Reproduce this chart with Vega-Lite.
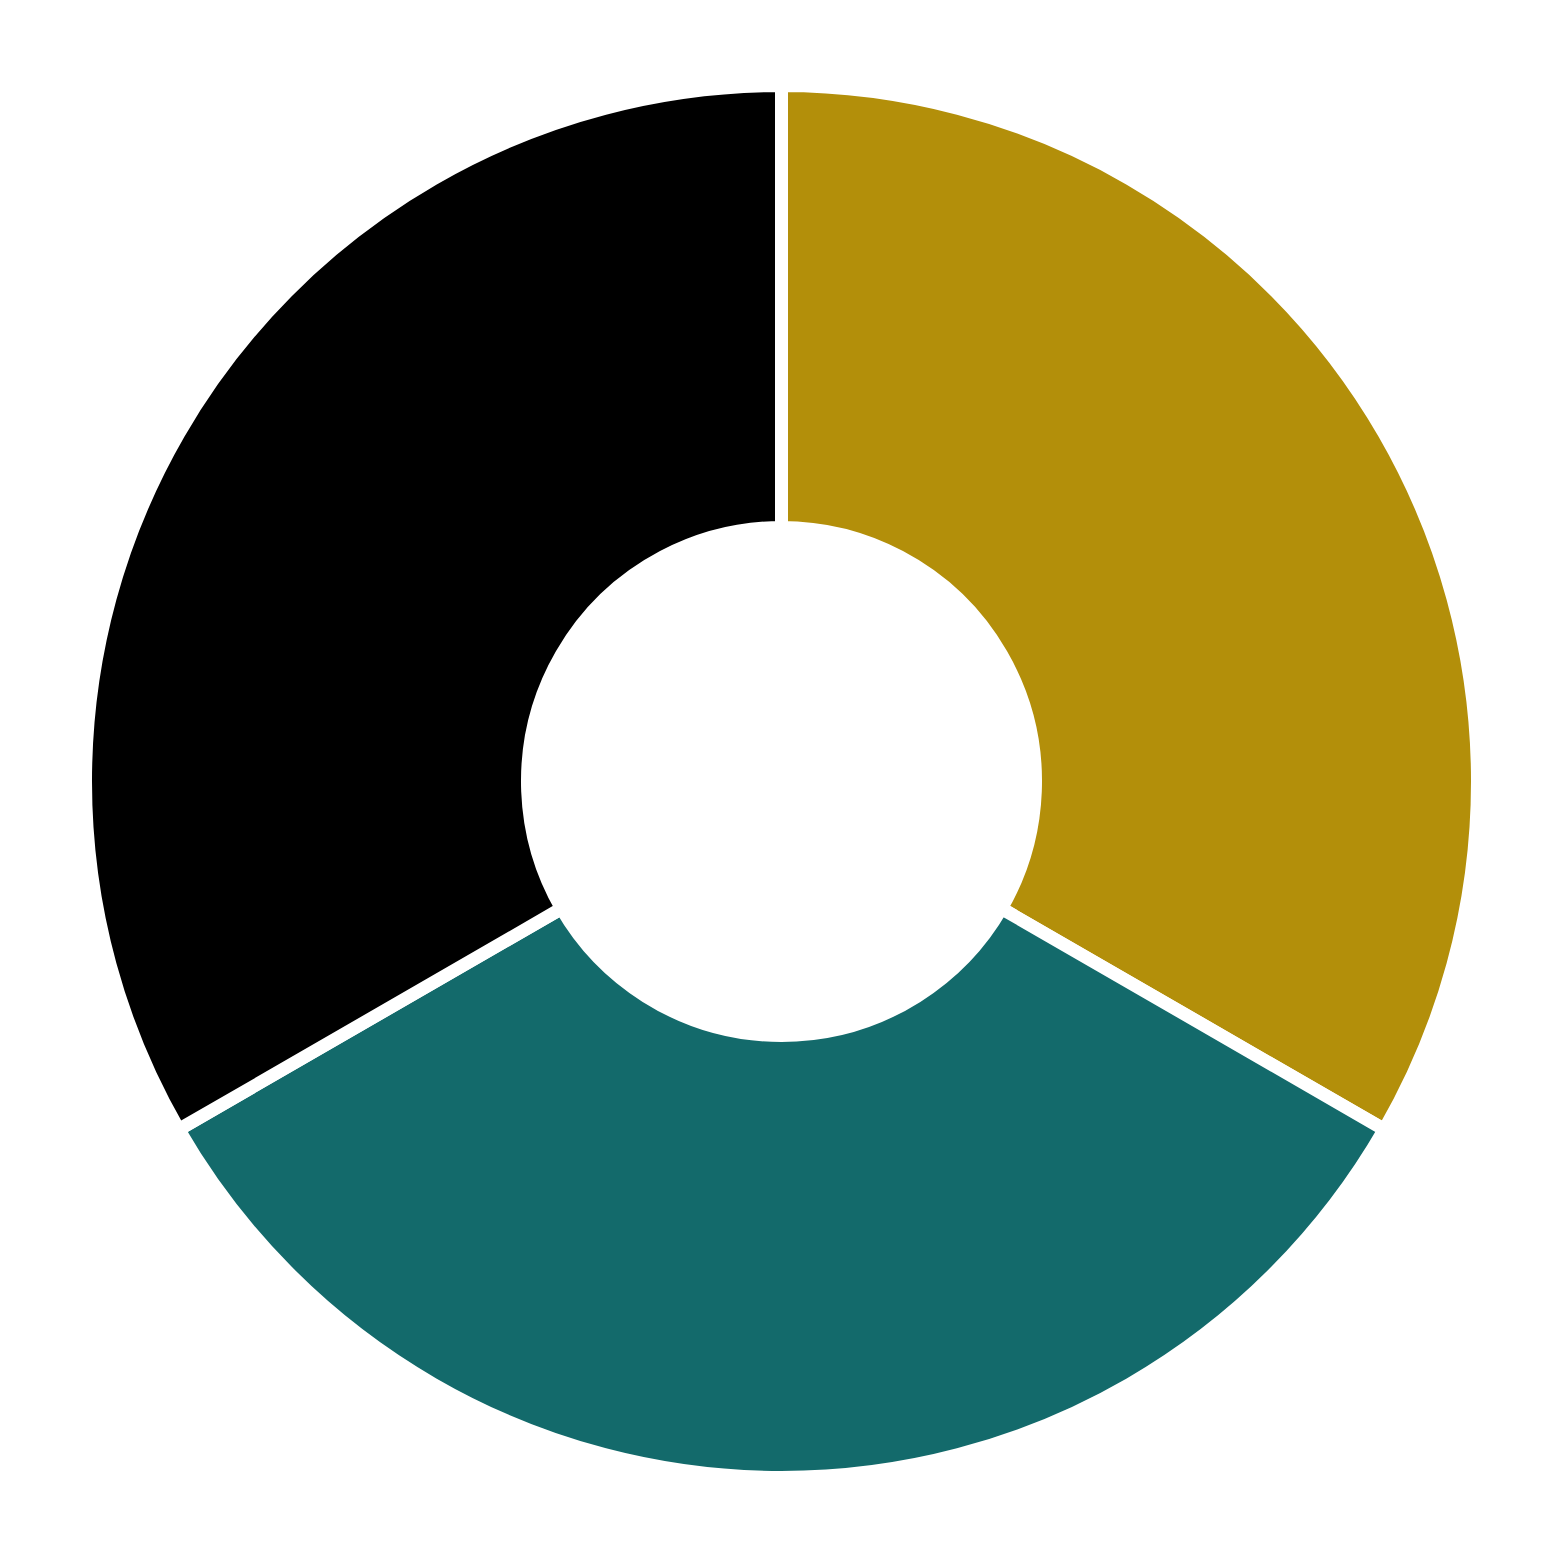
{
  "$schema": "https://vega.github.io/schema/vega-lite/v6.json",
  "autosize": {"type": "fit", "contains": "padding"},
  "width": 1563,
  "height": 1563,
  "padding": 0,
  "background": "white",
  "view": {"stroke": null},
  "data": {"values": [
    {"category": "A", "value": 1, "rank": 1},
    {"category": "B", "value": 1, "rank": 2},
    {"category": "C", "value": 1, "rank": 3}
  ]},
  "mark": {"type": "arc", "outerRadius": 696, "innerRadius": 254, "stroke": "white", "strokeWidth": 13},
  "encoding": {
    "theta": {"field": "value", "type": "quantitative", "stack": true},
    "order": {"field": "rank", "type": "quantitative"},
    "color": {"field": "category", "type": "nominal", "legend": null,
      "scale": {"domain": ["A", "B", "C"], "range": ["#B38F0A", "#136A6B", "#000000"]}}
  }
}
